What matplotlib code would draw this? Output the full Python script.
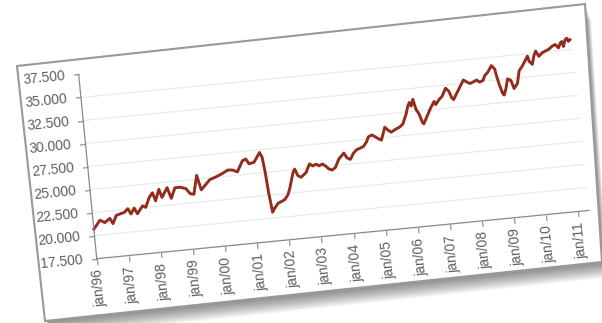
import numpy as np
import matplotlib
matplotlib.use("Agg")
import matplotlib.pyplot as plt
from matplotlib.patches import Polygon
from matplotlib.transforms import Affine2D
from mpl_toolkits.axisartist import floating_axes
from mpl_toolkits.axisartist.grid_finder import FixedLocator, DictFormatter

plt.rcParams['font.family'] = ['Liberation Sans', 'DejaVu Sans']

# ---------------- data (months since jan/96, index value) ----------------
months = [0, 2.6, 4.3, 6.3, 7.3, 8.8, 10.7, 12, 13.3, 14.3,
          15.7, 16.7, 18.9, 20, 21.6, 23, 23.9, 25.5, 26.4, 28.6,
          29.8, 31.5, 33.5, 35.5, 37, 38.3, 40, 41.2, 44.7, 47.2,
          49.7, 51.7, 53.5, 55.2, 57.5, 58.8, 59.8, 61.7, 64.1, 64.9,
          65.5, 66, 66.8, 67.7, 69.2, 70.4, 71.7, 73.1, 74, 75.8,
          76.5, 77.5, 78.6, 80.6, 82.2, 83.3, 84.6, 85.7, 87, 88.1,
          89.2, 90.4, 91.7, 93.2, 95.3, 96.3, 97.5, 98.9, 100.3, 101.5,
          102.8, 104.2, 105, 106.3, 107.4, 108.5, 109.7, 111.4, 112.5, 113.6,
          115.6, 116.9, 118.2, 119.8, 120.7, 121.4, 121.9, 122.8, 123.6, 124.6,
          125.5, 126, 127.6, 129.1, 130.6, 131.1, 132.5, 133.7, 135.3, 136.4,
          137.3, 137.9, 139.3, 140.8, 142.2, 143.4, 144.6, 145.8, 147.1, 148.2,
          149.5, 150.3, 151.6, 153.1, 154.2, 154.6, 155.4, 156.3, 156.8, 157.7,
          158.6, 159.8, 160.7, 162.1, 163.2, 164.6, 166, 166.8, 167.2, 168.3,
          169.2, 170, 171, 172.4, 173.6, 174.9, 176.3, 177.5, 178.6, 179.4,
          180, 180.5, 181.3, 182, 182.5, 183.1]
values = [20700, 21600, 21300, 21700, 21100, 21950, 22100, 22200, 22550, 21950,
          22550, 21900, 22700, 22500, 23500, 24000, 23100, 24300, 23400, 24400,
          23200, 24300, 24300, 24100, 23500, 23400, 25400, 23800, 24800, 25050,
          25350, 25650, 25600, 25350, 26500, 26650, 26100, 26200, 27200, 26650,
          25000, 22900, 20650, 21050, 21550, 21700, 21850, 22350, 23000, 24700,
          25050, 24300, 24100, 24550, 25450, 25200, 25350, 25150, 25300, 25050,
          24700, 24550, 24800, 25650, 26250, 25700, 25500, 26150, 26500, 26600,
          26750, 27250, 27750, 27900, 27700, 27450, 27250, 28600, 28250, 28000,
          28300, 28450, 28750, 29800, 30650, 31000, 30600, 31300, 30200, 29650,
          28750, 28550, 29400, 30200, 30850, 30500, 31000, 31300, 32150, 31800,
          31050, 30850, 31500, 32200, 32850, 32600, 32400, 32550, 32700, 32450,
          32600, 33100, 33450, 34100, 33700, 33000, 31900, 31000, 30800, 31500,
          32500, 32300, 31400, 31900, 33250, 33750, 34400, 34750, 34200, 33800,
          34700, 35200, 34600, 34950, 35100, 35250, 35550, 35700, 35300, 35800,
          35950, 35400, 36100, 36250, 35900, 36050]
assert len(months) == len(values)

x_ticks = list(range(0, 181, 12))
x_labels = ["jan/%02d" % ((96 + i) % 100) for i in range(len(x_ticks))]
y_ticks = list(range(17500, 37501, 2500))
y_labels = ["%d.%03d" % (v // 1000, v % 1000) for v in y_ticks]
x_min, x_max = 0, 184
y_min, y_max = 17500, 37500

# ---------------- figure & tilted card ----------------
W, H = 602, 323
fig = plt.figure(figsize=(W / 100, H / 100), dpi=100)

def fp(pts):
    return [(x / W, 1 - y / H) for x, y in pts]

card = [(17, 66), (585, 4), (602, 262), (45, 321)]
# soft shadow, mostly below and to the right
for k in range(1, 13):
    sh = [(x + 0.5 * k, y + 1.3 * k) for x, y in card]
    fig.patches.append(Polygon(fp(sh), closed=True, transform=fig.transFigure,
                               facecolor='#000000', edgecolor='none', alpha=0.045,
                               zorder=0))
fig.patches.append(Polygon(fp(card), closed=True, transform=fig.transFigure,
                           facecolor='white', edgecolor='#999999', linewidth=1.5,
                           zorder=1))

# ---------------- rotated plot area ----------------
angle = 5.6
px_per_month = 2.742
px_per_unit = 188.8 / (y_max - y_min)
tr = (Affine2D().translate(0, -y_min).scale(px_per_month, px_per_unit)
      .rotate_deg(angle))

corners = tr.transform([(x_min, y_min), (x_max, y_min), (x_min, y_max), (x_max, y_max)])
bx0, by0 = corners.min(axis=0)
bx1, by1 = corners.max(axis=0)
origin = (92, H - 261)  # screen position of (jan/96, 17.500), bottom-up pixels
rect = [(origin[0] + bx0) / W, (origin[1] + by0) / H, (bx1 - bx0) / W, (by1 - by0) / H]

gh = floating_axes.GridHelperCurveLinear(
    tr, extremes=(x_min, x_max, y_min, y_max),
    grid_locator1=FixedLocator(x_ticks),
    tick_formatter1=DictFormatter(dict(zip(x_ticks, x_labels))),
    grid_locator2=FixedLocator(y_ticks),
    tick_formatter2=DictFormatter(dict(zip(y_ticks, y_labels))))

ax = fig.add_axes(rect, axes_class=floating_axes.FloatingAxes, grid_helper=gh)
ax.patch.set_facecolor('none')
ax.set_zorder(2)
ax.grid(True, axis='y', color='#e8e8e8', linewidth=0.8)

for side in ["top", "right"]:
    ax.axis[side].set_visible(False)
for side in ["left", "bottom"]:
    a = ax.axis[side]
    a.line.set_color('#888888')
    a.line.set_linewidth(0.9)
    a.major_ticks.set_color('#888888')
    a.major_ticks.set_ticksize(4)
    a.major_ticks.set_tick_out(True)
    a.major_ticklabels.set_color('#5f5f5f')
    a.major_ticklabels.set_fontsize(10)
ax.axis["left"].major_ticklabels.set_pad(6)
ax.axis["bottom"].major_ticklabels.set_axis_direction("left")

aux = ax.get_aux_axes(tr)
aux.plot(months, values, color='#922d1d', linewidth=2.1, solid_joinstyle='round')

fig.savefig("out.png", dpi=100)
